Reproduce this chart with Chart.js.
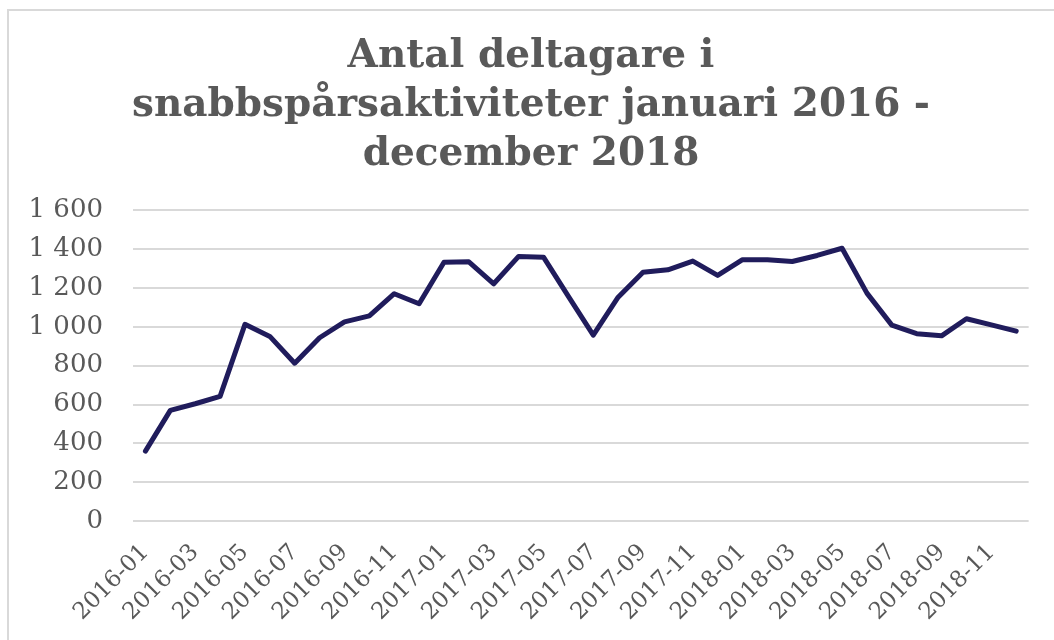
<!DOCTYPE html>
<html>
<head>
<meta charset="utf-8">
<script src="https://cdn.jsdelivr.net/npm/chart.js@4"></script>
<style>
html,body{margin:0;padding:0;background:#fff;overflow:hidden;width:1054px;height:640px;}
#frame{position:absolute;left:7px;top:9px;width:1100px;height:700px;border:2px solid #d9d9d9;box-sizing:border-box;}
#c{position:absolute;left:0;top:0;}
</style>
</head>
<body>
<div id="frame"></div>
<canvas id="c" width="1054" height="640"></canvas>
<script>
const titleLines = ["Antal deltagare i", "snabbspårsaktiviteter januari 2016 -", "december 2018"];
const months = [
  "2016-01","2016-02","2016-03","2016-04","2016-05","2016-06","2016-07","2016-08","2016-09","2016-10","2016-11","2016-12",
  "2017-01","2017-02","2017-03","2017-04","2017-05","2017-06","2017-07","2017-08","2017-09","2017-10","2017-11","2017-12",
  "2018-01","2018-02","2018-03","2018-04","2018-05","2018-06","2018-07","2018-08","2018-09","2018-10","2018-11","2018-12"
];
const participants = [
  360, 570, 604, 642, 1013, 951, 813, 944, 1026, 1057, 1171, 1119,
  1333, 1335, 1222, 1363, 1359, 1157, 958, 1153, 1282, 1294, 1339, 1265,
  1346, 1346, 1337, 1368, 1405, 1174, 1009, 965, 954, 1042, 1010, 978
];
const yTickValues = [0, 200, 400, 600, 800, 1000, 1200, 1400, 1600];

function fmt(v){
  if (v >= 1000) return Math.floor(v/1000) + ' ' + String(v % 1000).padStart(3, '0');
  return String(v);
}

const txt = '#595959';
new Chart(document.getElementById('c'), {
  type: 'line',
  data: {
    labels: months,
    datasets: [{
      data: participants,
      borderColor: '#201c5c',
      borderWidth: 5,
      pointRadius: 0,
      tension: 0,
      borderCapStyle: 'round',
      borderJoinStyle: 'round',
      fill: false
    }]
  },
  options: {
    responsive: false,
    devicePixelRatio: 1,
    animation: false,
    layout: { padding: { left: 8, right: 0, top: 0, bottom: 0 } },
    plugins: {
      legend: { display: false },
      tooltip: { enabled: false },
      title: {
        display: true,
        text: titleLines,
        color: txt,
        font: { family: 'DejaVu Serif', size: 39, weight: 'bold', lineHeight: 1.26 },
        padding: { top: 32, bottom: 31 }
      }
    },
    scales: {
      x: {
        offset: true,
        grid: { display: false, drawTicks: false },
        border: { display: false },
        ticks: {
          autoSkip: false,
          minRotation: 45,
          maxRotation: 45,
          padding: 18,
          color: txt,
          font: { family: 'DejaVu Serif', size: 23 },
          callback: function(v, i){ return i % 2 === 0 ? months[i] : ''; }
        },
        afterFit: function(s){ s.height = 119; }
      },
      y: {
        min: 0, max: 1600,
        afterBuildTicks: function(s){ s.ticks = yTickValues.map(v => ({ value: v })); },
        grid: { color: '#d9d9d9', lineWidth: 2, drawTicks: false },
        border: { display: false },
        ticks: {
          padding: 30,
          color: txt,
          font: { family: 'DejaVu Serif', size: 26 },
          callback: function(v){ return fmt(v); }
        },
        afterFit: function(s){ s.width = 125; }
      },
      y2: {
        position: 'right',
        display: true,
        grid: { display: false, drawTicks: false },
        border: { display: false },
        ticks: { display: false },
        afterFit: function(s){ s.width = 20; }
      }
    }
  }
});
</script>
</body>
</html>
